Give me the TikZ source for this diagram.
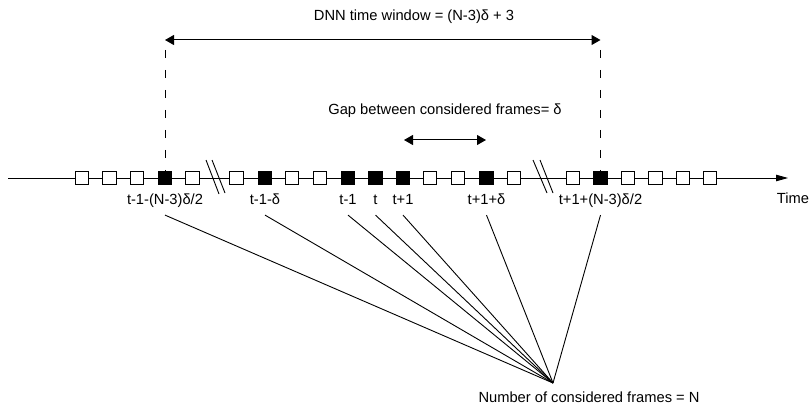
\documentclass[tikz,border=0pt]{standalone}
\usepackage{fontspec}
\setmainfont{Liberation Sans}
\usetikzlibrary{positioning,arrows.meta}
\begin{document}
\begin{tikzpicture}[x=1pt,y=-1pt,line width=0.9pt,
    fr/.style={draw, fill=white, minimum size=13.5pt, inner sep=0pt},
    keyfr/.style={fr, fill=black},
    lab/.style={text height=11pt, text depth=3pt, inner xsep=0pt, inner ysep=7.5pt},
    txt/.style={anchor=base, inner sep=0pt},
    dbl/.style={{Triangle[length=9pt,width=10pt]}-{Triangle[length=9pt,width=10pt]}, line width=1pt},
    dashpat/.style={dash pattern=on 8pt off 12pt},
    font=\fontsize{14.7pt}{17pt}\selectfont]
  \useasboundingbox (0,0) rectangle (810,406);
  % time axis
  \coordinate (ax0) at (8,178);
  \coordinate (ax1) at (788,178);
  \draw[-{Triangle[length=12pt,width=6.5pt]}] (ax0) -- (ax1);
  % frames
  \node[fr] (f1) at (82,178) {};
  \node[fr] (f2) at (109.5,178) {};
  \node[fr] (f3) at (137,178) {};
  \node[keyfr] (f4) at (165,178) {};
  \node[fr] (f5) at (192.5,178) {};
  \node[fr] (f6) at (236.5,178) {};
  \node[keyfr] (f7) at (265,178) {};
  \node[fr] (f8) at (292,178) {};
  \node[fr] (f9) at (320,178) {};
  \node[keyfr] (f10) at (348,178) {};
  \node[keyfr] (f11) at (375.5,178) {};
  \node[keyfr] (f12) at (403,178) {};
  \node[fr] (f13) at (430,178) {};
  \node[fr] (f14) at (458,178) {};
  \node[keyfr] (f15) at (486.5,178) {};
  \node[fr] (f16) at (514,178) {};
  \node[fr] (f17) at (573,178) {};
  \node[keyfr] (f18) at (600.5,178) {};
  \node[fr] (f19) at (628,178) {};
  \node[fr] (f20) at (655.5,178) {};
  \node[fr] (f21) at (683,178) {};
  \node[fr] (f22) at (710,178) {};
  % breaks
  \draw (206,160) -- (219,194);
  \draw (212,160) -- (225,193);
  \draw (533,160) -- (547,193);
  \draw (540,160) -- (553,193);
  % frame labels
  \node[lab, below=0pt of f4] (l4) {t-1-(N-3)δ/2};
  \node[lab, below=0pt of f7] (l7) {t-1-δ};
  \node[lab, below=0pt of f10] (l10) {t-1};
  \node[lab, below=0pt of f11] (l11) {t};
  \node[lab, below=0pt of f12] (l12) {t+1};
  \node[lab, below=0pt of f15] (l15) {t+1+δ};
  \node[lab, below=0pt of f18] (l18) {t+1+(N-3)δ/2};
  \node[txt] (tlab) at (793,203.5) {Time};
  % window
  \coordinate (wl) at (165,40);
  \coordinate (wr) at (600.5,40);
  \draw[dbl] (wl) -- (wr);
  \draw[dashpat] ([yshift=-10pt]wl) -- (f4.north);
  \draw[dashpat] ([yshift=-10pt]wr) -- (f18.north);
  \node[txt] (wlab) at (414,20.7) {DNN time window = (N-3)δ + 3};
  % gap
  \coordinate (gl) at (404,140);
  \coordinate (gr) at (486,140);
  \draw[dbl] (gl) -- (gr);
  \node[txt] (glab) at (445,115) {Gap between considered frames= δ};
  % count
  \coordinate (fan) at (553,383);
  \node[txt] (nlab) at (589,402.5) {Number of considered frames = N};
  \draw (l4.south) -- (fan);
  \draw (l7.south) -- (fan);
  \draw (l10.south) -- (fan);
  \draw (l11.south) -- (fan);
  \draw (l12.south) -- (fan);
  \draw (l15.south) -- (fan);
  \draw (l18.south) -- (fan);
\end{tikzpicture}
\end{document}
